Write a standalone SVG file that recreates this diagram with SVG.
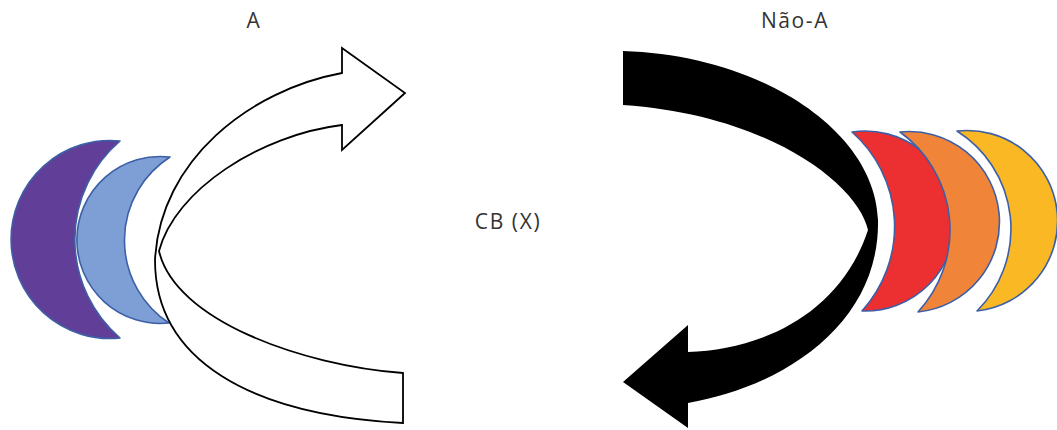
<svg xmlns="http://www.w3.org/2000/svg" width="1057" height="430" viewBox="0 0 1057 430">
  <style>
    .label { font-family: "Open Sans", "Liberation Sans", sans-serif; font-size: 21px; fill: #333333; letter-spacing: 1.6px; text-anchor: middle; }
    .moon { stroke: #3d5fa6; stroke-width: 1.6; stroke-linejoin: round; }
    .white-arrow { fill: #ffffff; stroke: #000000; stroke-width: 1.8; stroke-linejoin: miter; }
    .black-arrow { fill: #000000; stroke: none; }
  </style>
  <rect width="1057" height="430" fill="#ffffff"/>

  <!-- left crescents, opening to the right -->
  <g id="moon-purple">
    <path class="moon" fill="#613f99" stroke="#5a4a9e" d="M120,141 A99,99 0 1 0 120,338 A130,130 0 0 1 120,141 Z"/>
  </g>
  <g id="moon-lightblue">
    <path class="moon" fill="#7d9fd5" d="M170,157 A83.5,83.5 0 1 0 169,323 A99,99 0 0 1 170,157 Z"/>
  </g>

  <!-- right crescents, opening to the left -->
  <g id="moon-red">
    <path class="moon" fill="#ec2f30" d="M852,132 A90,90 0 1 1 862,311 A126,126 0 0 0 852,132 Z"/>
  </g>
  <g id="moon-orange">
    <path class="moon" fill="#f0853a" d="M900,132 A90,90 0 1 1 918,312 A121,121 0 0 0 900,132 Z"/>
  </g>
  <g id="moon-yellow">
    <path class="moon" fill="#fbb825" d="M957,131 A89,89 0 1 1 977,311 A116,116 0 0 0 957,131 Z"/>
  </g>

  <g id="connectors">
    <!-- outlined curved arrow on the left, pointing right -->
    <path id="arrow-a" class="white-arrow" d="M403,423 C250,415 155,360 155,260 C160,160 250,90 342,73 L342,48 L405,93 L342,150 L342,125 C260,135 175,190 159,251 C175,320 300,365 403,373 Z"/>
    <!-- solid curved arrow on the right, pointing left -->
    <path id="arrow-nao-a" class="black-arrow" d="M623,51 C760,55 875,130 878,220 C880,320 790,385 688,403 L688,428 L623,382 L688,325 L688,352 C760,350 840,315 868,230 C858,185 770,115 623,105 Z"/>
  </g>

  <g id="label-a">
    <text class="label" x="254" y="28">A</text>
  </g>
  <g id="label-nao-a">
    <text class="label" x="795" y="28">Não-A</text>
  </g>
  <g id="label-cb">
    <text class="label" x="508" y="229">CB (X)</text>
  </g>
</svg>
